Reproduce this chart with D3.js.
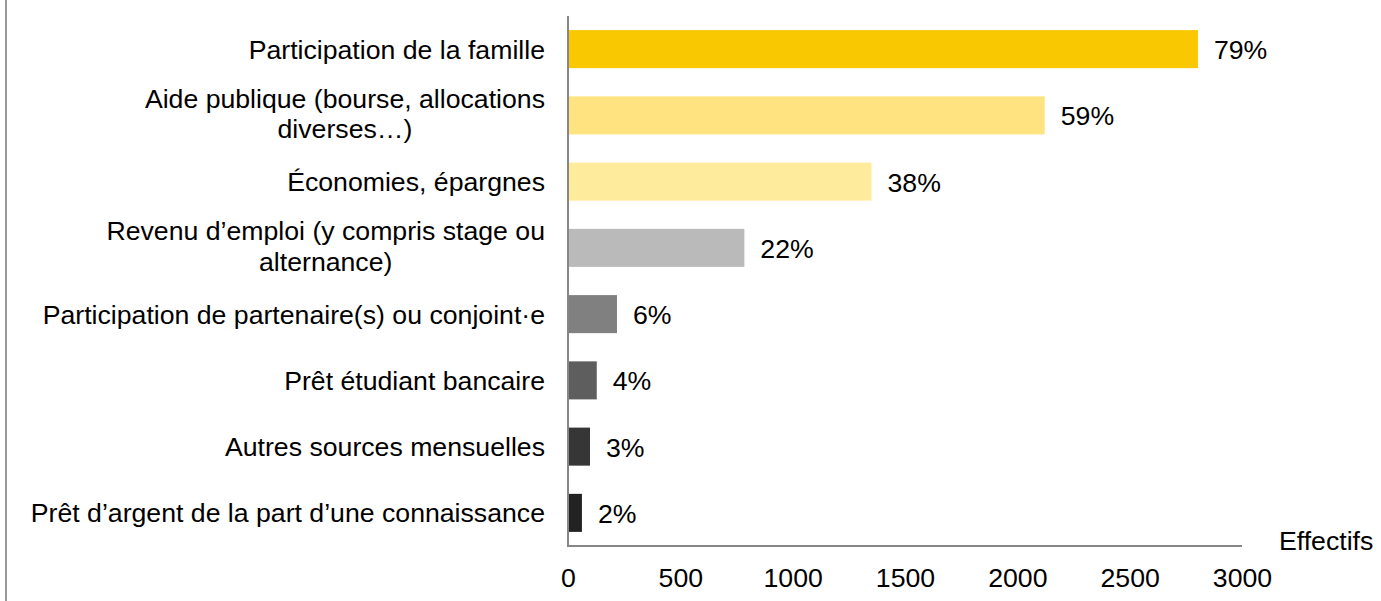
<!DOCTYPE html>
<html>
<head>
<meta charset="utf-8">
<script src="https://cdn.jsdelivr.net/npm/d3@7"></script>
<style>
  html, body { margin: 0; padding: 0; background: #fff; }
  svg { display: block; font-family: "Liberation Sans", Arial, sans-serif; }
</style>
</head>
<body>
<svg id="chart" width="1381" height="601"></svg>
<script>
const categories = [
  ["Participation de la famille"],
  ["Aide publique (bourse, allocations", "diverses…)"],
  ["Économies, épargnes"],
  ["Revenu d’emploi (y compris stage ou", "alternance)"],
  ["Participation de partenaire(s) ou conjoint·e"],
  ["Prêt étudiant bancaire"],
  ["Autres sources mensuelles"],
  ["Prêt d’argent de la part d’une connaissance"]
];
const values = [2804, 2122, 1351, 785, 218, 128, 98, 62];
const percentLabels = ["79%", "59%", "38%", "22%", "6%", "4%", "3%", "2%"];
const barColors = ["#FAC800", "#FFE380", "#FFEB9C", "#BABABA", "#808080", "#5E5E5E", "#363636", "#222222"];
const xTicks = [0, 500, 1000, 1500, 2000, 2500, 3000];
const axisTitle = "Effectifs";

const svg = d3.select("#chart");
const fontSize = 26.67;
const x0 = 568, x1 = 1242, yTop = 16, yBot = 546;

const x = d3.scaleLinear().domain([0, 3000]).range([x0, x1]);
const y = d3.scaleBand().domain(d3.range(categories.length)).range([yTop, yBot])
  .paddingInner(0.426).paddingOuter(0.213);

// outer left border line
svg.append("line").attr("x1", 6).attr("x2", 6).attr("y1", 0).attr("y2", 601)
  .attr("stroke", "#999").attr("stroke-width", 2);

// bars
svg.append("g").selectAll("rect").data(values).join("rect")
  .attr("x", x(0))
  .attr("y", (d, i) => y(i))
  .attr("width", d => x(d) - x(0))
  .attr("height", y.bandwidth())
  .attr("fill", (d, i) => barColors[i]);

// axes lines
svg.append("line").attr("x1", x0).attr("x2", x0).attr("y1", yTop).attr("y2", yBot + 1)
  .attr("stroke", "#868686").attr("stroke-width", 2);
svg.append("line").attr("x1", x0 - 1).attr("x2", x1).attr("y1", yBot).attr("y2", yBot)
  .attr("stroke", "#868686").attr("stroke-width", 2);

// x axis tick labels
const xAxis = d3.axisBottom(x).tickValues(xTicks).tickSize(0).tickPadding(0).tickFormat(d3.format("d"));
const gx = svg.append("g").attr("transform", `translate(0,${yBot})`).call(xAxis);
gx.select(".domain").remove();
gx.selectAll("text")
  .attr("y", 0).attr("dy", null)
  .attr("transform", "translate(0,41)")
  .attr("font-size", fontSize)
  .attr("font-family", "\"Liberation Sans\", Arial, sans-serif")
  .attr("fill", "#000");

// axis title
svg.append("text").attr("x", 1279).attr("y", 550)
  .attr("font-size", fontSize).attr("fill", "#000").text(axisTitle);

// category labels
const labelRight = 545;
const lineH = 30.5;
categories.forEach((lines, i) => {
  const cy = y(i) + y.bandwidth() / 2;
  if (lines.length === 1) {
    svg.append("text").attr("x", labelRight).attr("y", cy + 9.5)
      .attr("text-anchor", "end").attr("font-size", fontSize).attr("fill", "#000")
      .text(lines[0]);
  } else {
    const first = svg.append("text").attr("x", labelRight).attr("y", cy - lineH / 2 + 9.5 - 2)
      .attr("text-anchor", "end").attr("font-size", fontSize).attr("fill", "#000")
      .text(lines[0]);
    const w = first.node().getComputedTextLength();
    const center = labelRight - w / 2;
    svg.append("text").attr("x", center).attr("y", cy + lineH / 2 + 9.5 - 2)
      .attr("text-anchor", "middle").attr("font-size", fontSize).attr("fill", "#000")
      .text(lines[1]);
  }
});

// percentage labels
svg.append("g").selectAll("text").data(values).join("text")
  .attr("x", d => x(d) + 16)
  .attr("y", (d, i) => y(i) + y.bandwidth() / 2 + 10)
  .attr("font-size", fontSize).attr("fill", "#000")
  .text((d, i) => percentLabels[i]);
</script>
</body>
</html>
